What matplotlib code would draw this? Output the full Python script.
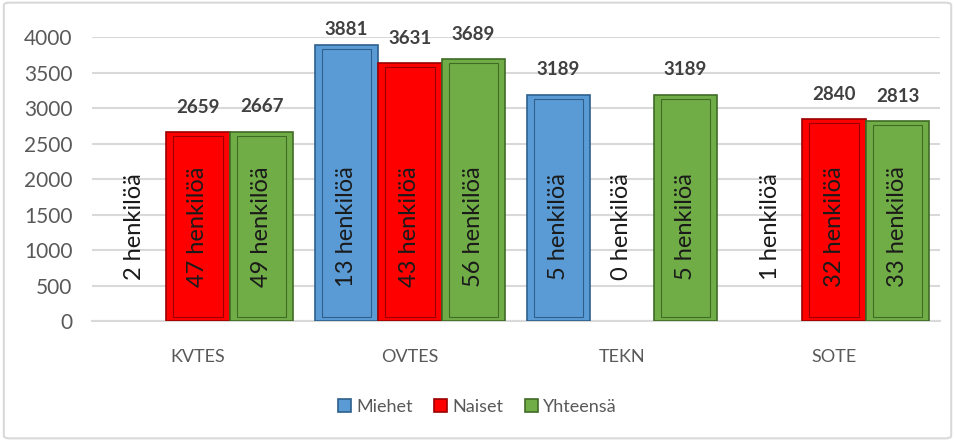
import numpy as np
import matplotlib.pyplot as plt
from matplotlib.patches import FancyBboxPatch

categories = ["KVTES", "OVTES", "TEKN", "SOTE"]
series = ["Miehet", "Naiset", "Yhteensä"]
miehet = [0, 3881, 3189, 0]
naiset = [2659, 3631, 0, 2840]
yhteensa = [2667, 3689, 3189, 2813]
hlo_miehet = [2, 13, 5, 1]
hlo_naiset = [47, 43, 0, 32]
hlo_yhteensa = [49, 56, 5, 33]

colors = ["#5b9bd5", "#ff0000", "#70ad47"]
edges = ["#2e5f8c", "#9a0000", "#3f6b25"]

plt.rcParams['font.family'] = ['Lato', 'DejaVu Sans']

fig = plt.figure(figsize=(9.55, 4.41), dpi=100)
ax = fig.add_axes([0.0963, 0.272, 0.888, 0.644])

# frame round the whole chart
fig.patches.append(FancyBboxPatch((0.004, 0.006), 0.992, 0.988,
                                  boxstyle="round,pad=0,rounding_size=0.006",
                                  transform=fig.transFigure, fill=False,
                                  edgecolor="#d9d9d9", linewidth=1.5))

x = np.arange(len(categories))
w = 0.3
values = [miehet, naiset, yhteensa]
counts = [hlo_miehet, hlo_naiset, hlo_yhteensa]

handles = []
for i in range(3):
    pos = x + (i - 1) * w
    vals = np.array(values[i], dtype=float)
    shown = np.where(vals > 0, vals, np.nan)  # no bar for zero values
    b = ax.bar(pos, shown, w, color=colors[i], edgecolor=edges[i],
               linewidth=1.2, label=series[i], zorder=3)
    handles.append(b)
    # inner bevel
    ax.bar(pos, shown - 110, w * 0.78, bottom=55,
           color=colors[i], edgecolor=edges[i], linewidth=0.8, zorder=4)
    for p, v, c in zip(pos, vals, counts[i]):
        if v > 0:
            ax.text(p, min(v + 350, 4110), str(int(v)), ha="center", va="center",
                    fontsize=13.5, fontweight="bold", color="#404040",
                    clip_on=False, zorder=5)
        ax.text(p, 1330, "%d henkilöä" % c, rotation=90, ha="center",
                va="center", fontsize=17, color="#1a1a1a", zorder=5)

ax.set_xlim(-0.5, 3.5)
ax.set_ylim(0, 4000)
ax.set_yticks(np.arange(0, 4001, 500))
ax.set_xticks(x)
ax.set_xticklabels(categories)
ax.tick_params(axis="y", length=0, labelsize=15, labelcolor="#595959", pad=14)
ax.tick_params(axis="x", length=0, labelsize=13, labelcolor="#595959", pad=20)
ax.grid(axis="y", color="#d9d9d9", linewidth=1.5, zorder=0)
for s in ["top", "right", "left"]:
    ax.spines[s].set_visible(False)
ax.spines["bottom"].set_color("#d9d9d9")
ax.spines["bottom"].set_linewidth(1.5)

fig.legend(handles=handles, labels=series, loc="center",
           bbox_to_anchor=(0.5, 0.077), ncol=3, frameon=False,
           fontsize=13, labelcolor="#595959", handlelength=0.7,
           handleheight=0.7, handletextpad=0.3, columnspacing=1.2)

fig.savefig("out.png", dpi=100)
